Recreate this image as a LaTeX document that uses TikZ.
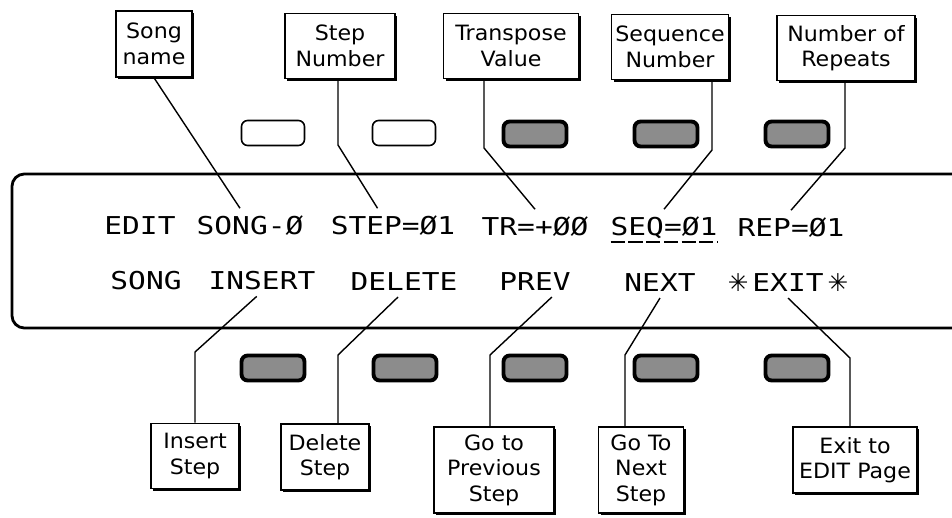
\documentclass[tikz,border=0pt]{standalone}
\usepackage{fontspec}
\usetikzlibrary{shadows}

\newfontfamily\lcdfont[FakeStretch=1.2]{DejaVu Sans Mono}
\newfontfamily\lblfont[FakeStretch=1.05]{DejaVu Sans}
\newfontfamily\symfont{DejaVu Sans}

\tikzset{
  etiq/.style={draw, line width=0.9pt, fill=white, align=center, inner sep=1pt,
    font=\lblfont\fontsize{12}{14.5}\selectfont,
    drop shadow={shadow xshift=1.3pt, shadow yshift=-1.3pt, fill=black, opacity=1}},
  paraula/.style={inner sep=0pt, outer sep=4pt, anchor=base,
    font=\lcdfont\fontsize{14}{16}\selectfont},
  tecla/.style={draw, line width=0.9pt, rounded corners=3.5pt,
    minimum width=1.26cm, minimum height=0.5cm},
  teclafosca/.style={tecla, line width=2.2pt, fill=black!45},
  linia/.style={line width=0.8pt}
}

\begin{document}
\begin{tikzpicture}[x=0.02cm, y=-0.02cm]

	\useasboundingbox (0,0) rectangle (952,517);
	\clip (0,0) rectangle (952,517);

	% Pantalla
	\draw[line width=1.6pt, rounded corners=7pt] (12,174) rectangle (964,328);

	% Botons
	\foreach \bx [count=\i] in {273,404}
		\node[tecla] (ta\i) at (\bx,133) {};
	\foreach \bx [count=\i from 3] in {535,666,797}
		\node[teclafosca] (ta\i) at (\bx,134) {};
	\foreach \bx [count=\i] in {273,405,535,666,797}
		\node[teclafosca] (tb\i) at (\bx,368) {};

	% Text de la pantalla
	\node[paraula] (editw) at (140,234) {EDIT};
	\node[paraula] (songw) at (250,234) {SONG-Ø};
	\node[paraula] (stepw) at (393,234) {STEP=Ø1};
	\node[paraula] (trw)   at (535,235) {TR=+ØØ};
	\node[paraula] (seqw)  at (664,235) {SEQ=Ø1};
	\node[paraula] (repw)  at (791,236) {REP=Ø1};

	\node[paraula] (songm) at (146,289) {SONG};
	\node[paraula] (insw)  at (262,289) {INSERT};
	\node[paraula] (delw)  at (404,290) {DELETE};
	\node[paraula] (prvw)  at (535,290) {PREV};
	\node[paraula] (nxtw)  at (660,291) {NEXT};
	\node[paraula] (extw)  at (788,291) {{\symfont\bfseries ✳}\,EXIT\,{\symfont\bfseries ✳}};

	\draw[line width=1.1pt, dash pattern=on 8pt off 2.1pt]
		([xshift=4pt,yshift=-4pt]seqw.base west) -- ([xshift=-4pt,yshift=-4pt]seqw.base east);

	% Etiquetes de dalt
	\node[etiq, minimum width=1.52cm, minimum height=1.32cm] (sname) at (154,44) {Song\\name};
	\node[etiq, minimum width=2.2cm, minimum height=1.3cm] (stepn) at (340,46) {Step\\Number};
	\node[etiq, minimum width=2.7cm, minimum height=1.3cm] (trv) at (511,46) {Transpose\\Value};
	\node[etiq, minimum width=2.34cm, minimum height=1.3cm] (seqn) at (670,47) {Sequence\\Number};
	\node[etiq, minimum width=2.76cm, minimum height=1.3cm] (nrep) at (846,48) {Number of\\Repeats};

	% Etiquetes de baix
	\node[etiq, minimum width=1.76cm, minimum height=1.3cm] (ins) at (195,456) {Insert\\Step};
	\node[etiq, minimum width=1.76cm, minimum height=1.32cm] (del) at (325,457) {Delete\\Step};
	\node[etiq, minimum width=2.4cm, minimum height=1.72cm] (prv) at (494,470) {Go to\\Previous\\Step};
	\node[etiq, minimum width=1.7cm, minimum height=1.72cm] (nxt) at (641,470) {Go To\\Next\\Step};
	\node[etiq, minimum width=2.48cm, minimum height=1.32cm] (ext) at (855,460) {Exit to\\EDIT Page};

	% Colzes
	\coordinate (stepk) at (338,145);
	\coordinate (trk)   at (484,148);
	\coordinate (seqk)  at (712,150);
	\coordinate (repk)  at (845,148);

	\coordinate (insk) at (195,352);
	\coordinate (delk) at (338,355);
	\coordinate (prvk) at (490,355);
	\coordinate (nxtk) at (625,355);
	\coordinate (extk) at (850,358);

	% Linies
	\draw[linia] (sname.south) -- ([xshift=-5.7pt]songw.north);
	\draw[linia] (stepn.south -| stepk) -- (stepk) -- ([xshift=-8.8pt]stepw.north);
	\draw[linia] (trv.south -| trk) -- (trk) -- (trw.north);
	\draw[linia] (seqn.south -| seqk) -- (seqk) -- (seqw.north);
	\draw[linia] (nrep.south -| repk) -- (repk) -- (repw.north);

	\draw[linia] ([xshift=-3pt]insw.south) -- (insk) -- (ins.north -| insk);
	\draw[linia] ([xshift=-3.4pt]delw.south) -- (delk) -- (del.north -| delk);
	\draw[linia] ([xshift=9.6pt]prvw.south) -- (prvk) -- (prv.north -| prvk);
	\draw[linia] (nxtw.south) -- (nxtk) -- (nxt.north -| nxtk);
	\draw[linia] (extw.south) -- (extk) -- (ext.north -| extk);

\end{tikzpicture}
\end{document}
